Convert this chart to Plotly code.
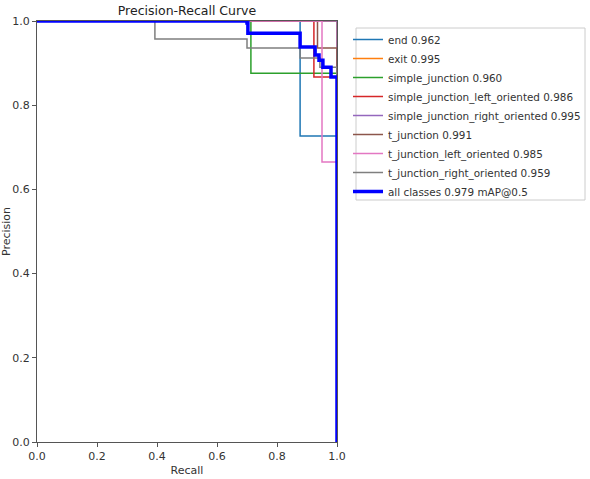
import plotly.graph_objects as go

# Step-wise PR curves (recall breakpoints, precision levels), drawn with hv steps
names = ["end 0.962", "exit 0.995", "simple_junction 0.960",
         "simple_junction_left_oriented 0.986", "simple_junction_right_oriented 0.995",
         "t_junction 0.991", "t_junction_left_oriented 0.985",
         "t_junction_right_oriented 0.959"]
colors = ["#1f77b4", "#ff7f0e", "#2ca02c", "#d62728", "#9467bd", "#8c564b", "#e377c2", "#7f7f7f"]

end_r = [0, 0.877, 1.0]
end_p = [1.0, 0.727, 0.0]
exit_r = [0, 1.0]
exit_p = [1.0, 0.0]
sj_r = [0, 0.713, 1.0]
sj_p = [1.0, 0.876, 0.0]
sjlo_r = [0, 0.923, 1.0]
sjlo_p = [1.0, 0.867, 0.0]
sjro_r = [0, 1.0]
sjro_p = [1.0, 0.0]
tj_r = [0, 0.935, 1.0]
tj_p = [1.0, 0.936, 0.0]
tjlo_r = [0, 0.950, 1.0]
tjlo_p = [1.0, 0.665, 0.0]
tjro_r = [0, 0.393, 0.700, 0.877, 0.943, 1.0]
tjro_p = [1.0, 0.957, 0.936, 0.912, 0.890, 0.0]

all_r = [0, 0.700, 0.703, 0.877, 0.927, 0.940, 0.953, 0.980, 1.0]
all_p = [1.0, 0.995, 0.971, 0.938, 0.919, 0.907, 0.890, 0.867, 0.0]
all_name = "all classes 0.979 mAP@0.5"

series_r = [end_r, exit_r, sj_r, sjlo_r, sjro_r, tj_r, tjlo_r, tjro_r]
series_p = [end_p, exit_p, sj_p, sjlo_p, sjro_p, tj_p, tjlo_p, tjro_p]

fig = go.Figure()
for n, c, r, p in zip(names, colors, series_r, series_p):
    fig.add_trace(go.Scatter(x=r, y=p, mode="lines", name=n,
                             line=dict(color=c, width=1.5, shape="hv")))
fig.add_trace(go.Scatter(x=all_r, y=all_p, mode="lines", name=all_name,
                         line=dict(color="#0000ff", width=3.5, shape="hv")))

font_family = "DejaVu Sans, sans-serif"
axis_common = dict(range=[0, 1], tickvals=[0, 0.2, 0.4, 0.6, 0.8, 1.0],
                   ticktext=["0.0", "0.2", "0.4", "0.6", "0.8", "1.0"],
                   showgrid=False, zeroline=False, showline=True, mirror=True,
                   linecolor="#555555", linewidth=1, ticks="outside", ticklen=4,
                   tickcolor="#555555", tickfont=dict(size=11, color="#333333"),
                   automargin=False)

# legend frame (drawn as a shape so the text can sit close to the swatches)
fig.add_shape(type="rect", xref="paper", yref="paper",
              x0=(356 - 37) / 300, x1=(585 - 37) / 300,
              y0=(442 - 200) / 421, y1=(442 - 28) / 421,
              line=dict(color="#cccccc", width=1), fillcolor="rgba(0,0,0,0)", layer="above")

fig.update_layout(
    width=590, height=479,
    margin=dict(l=37, r=253, t=21, b=37, autoexpand=False),
    paper_bgcolor="white", plot_bgcolor="white",
    font=dict(family=font_family, size=11, color="#333333"),
    title=dict(text="Precision-Recall Curve", x=(37 + 150) / 590, xanchor="center",
               y=1 - 11 / 479, yanchor="middle", font=dict(size=12.5, color="#222222")),
    xaxis=dict(axis_common, title=dict(text="Recall", standoff=4, font=dict(size=11))),
    yaxis=dict(axis_common, title=dict(text="Precision", standoff=4, font=dict(size=11))),
    legend=dict(x=(348 - 37) / 300, y=(442 - 25) / 421, xanchor="left", yanchor="top",
                borderwidth=0, bgcolor="rgba(0,0,0,0)",
                font=dict(size=10.4, color="#333333"), tracegroupgap=0,
                itemwidth=30),
    showlegend=True,
)

fig.write_html("out.html")
